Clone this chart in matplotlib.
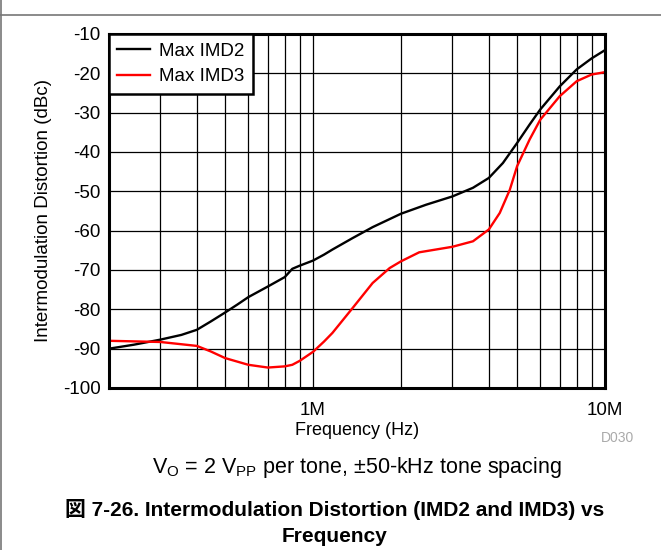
import matplotlib
matplotlib.use("Agg")
import matplotlib.pyplot as plt
from matplotlib.lines import Line2D
from matplotlib.ticker import FixedLocator, NullFormatter

freq_imd2 = [2e5, 2.43e5, 3e5, 3.54e5, 4e5, 4.46e5, 5e5, 5.5e5, 6e5, 7e5, 8e5, 8.49e5, 9e5,
             1e6, 1.09e6, 1.165e6, 1.365e6, 1.6e6, 2e6, 2.44e6, 3e6, 3.53e6, 4e6, 4.47e6,
             5e6, 5.52e6, 6e6, 7e6, 8e6, 9e6, 1e7]
imd2 = [-90.0, -89.0, -87.7, -86.5, -85.2, -83.1, -80.8, -78.8, -76.9, -74.2, -71.8, -69.7, -68.9,
        -67.6, -66.1, -64.8, -61.9, -59.1, -55.7, -53.4, -51.3, -49.1, -46.6, -42.8,
        -37.7, -33.0, -29.2, -23.3, -19.0, -16.2, -14.1]

freq_imd3 = [2e5, 3e5, 4e5, 4.46e5, 5e5, 6e5, 7e5, 8e5, 8.49e5, 9e5, 1e6, 1.09e6, 1.165e6,
             1.365e6, 1.6e6, 1.83e6, 2e6, 2.31e6, 3e6, 3.53e6, 4e6, 4.36e6, 4.72e6, 5e6,
             5.52e6, 6e6, 7e6, 8e6, 9e6, 1e7]
imd3 = [-88.0, -88.3, -89.3, -90.7, -92.4, -94.1, -94.8, -94.5, -94.1, -93.1, -90.8, -88.2, -86.0,
        -79.7, -73.3, -69.5, -67.8, -65.5, -64.1, -62.7, -59.7, -55.5, -49.6, -43.6,
        -36.8, -31.8, -25.8, -22.0, -20.3, -19.7]

y_ticks = [-10, -20, -30, -40, -50, -60, -70, -80, -90, -100]
x_major = [1e6, 1e7]
x_major_labels = ["1M", "10M"]
x_minor = [3e5, 4e5, 5e5, 6e5, 7e5, 8e5, 9e5, 2e6, 3e6, 4e6, 5e6, 6e6, 7e6, 8e6, 9e6]

FONT = ["Liberation Sans", "Noto Sans CJK JP", "DejaVu Sans"]
plt.rcParams["font.family"] = FONT

fig = plt.figure(figsize=(6.61, 5.5), dpi=100)
ax = fig.add_axes([109/661, 1-388/550, (605-109)/661, (388-34)/550])

ax.set_xscale("log")
ax.set_xlim(2e5, 1e7)
ax.set_ylim(-100, -10)
ax.xaxis.set_major_locator(FixedLocator(x_major))
ax.set_xticklabels(x_major_labels)
ax.xaxis.set_minor_locator(FixedLocator(x_minor))
ax.xaxis.set_minor_formatter(NullFormatter())
ax.set_yticks(y_ticks)
ax.set_yticklabels([str(v) for v in y_ticks])
ax.tick_params(which="both", length=0, labelsize=13.5, colors="black")
ax.tick_params(axis="x", pad=10)
ax.tick_params(axis="y", pad=6)
ax.grid(True, which="both", color="black", linewidth=0.9)
ax.set_axisbelow(True)
for s in ax.spines.values():
    s.set_linewidth(2.2)
    s.set_color("black")

ax.plot(freq_imd2, imd2, color="black", linewidth=1.7, label="Max IMD2",
        solid_joinstyle="round")
ax.plot(freq_imd3, imd3, color="#ff0000", linewidth=1.7, label="Max IMD3",
        solid_joinstyle="round")

leg = ax.legend(loc="upper left", bbox_to_anchor=(0, 1), borderaxespad=0,
                fancybox=False, framealpha=1, edgecolor="black", fontsize=13.5,
                handlelength=1.75, handletextpad=0.45, borderpad=0.45, labelspacing=0.45)
leg.get_frame().set_linewidth(1.8)

ax.set_xlabel("Frequency (Hz)", fontsize=13, labelpad=2)
ax.set_ylabel("Intermodulation Distortion (dBc)", fontsize=13.5, labelpad=8)

fig.text(618/661, 1-438/550, "D030", color="#aaaaaa", fontsize=10, ha="center", va="center")
fig.text(357/661, 1-467/550, r"V$_\mathregular{O}$ = 2 V$_\mathregular{PP}$ per tone, ±50-kHz tone spacing",
         fontsize=15.5, ha="center", va="center")
fig.text(335/661, 1-510/550, "図 7-26. Intermodulation Distortion (IMD2 and IMD3) vs",
         fontsize=15, fontweight="bold", ha="center", va="center", family=FONT)
fig.text(335/661, 1-536/550, "Frequency",
         fontsize=15, fontweight="bold", ha="center", va="center", family=FONT)

fig.add_artist(Line2D([0, 1], [1-15/550, 1-15/550], color="#777777", linewidth=1.2,
                      transform=fig.transFigure))
fig.add_artist(Line2D([0.5/661, 0.5/661], [0, 1], color="#777777", linewidth=1.2,
                      transform=fig.transFigure))

fig.savefig("out.png", dpi=100)
